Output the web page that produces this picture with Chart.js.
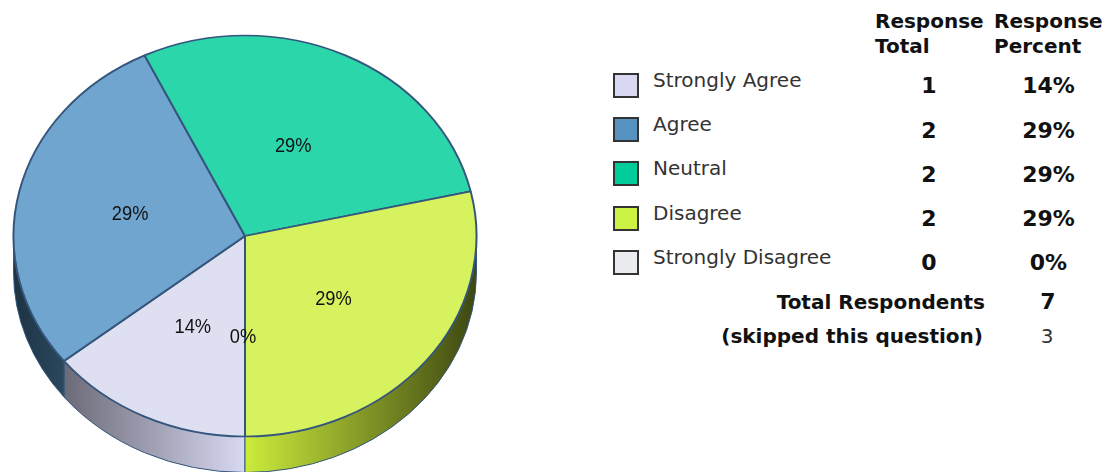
<!DOCTYPE html>
<html>
<head>
<meta charset="utf-8">
<title>Survey responses</title>
<script src="https://cdn.jsdelivr.net/npm/chart.js@4"></script>
<style>
    html, body { margin: 0; padding: 0; background: #fff; }
    body { position: relative; width: 1112px; height: 472px; overflow: hidden; font-family: "DejaVu Sans", sans-serif; }
    #pie-wrap { position: absolute; left: 0; top: 0; width: 490px; height: 472px; }
    .cell { position: absolute; white-space: nowrap; color: #111; line-height: 24px; }
    .bold { font-weight: bold; font-size: 20px; color: #111; }
    .value { font-weight: bold; font-size: 22px; color: #111; }
    .head { font-weight: bold; font-size: 20px; color: #111; }
    .name { font-size: 20px; color: #333; }
    .swatch { position: absolute; left: 613px; width: 22px; height: 21px; border: 2px solid #333; box-sizing: content-box; }
</style>
</head>
<body>
<div id="pie-wrap"><canvas id="pie"></canvas></div>
<div id="table"></div>
<script>
const categories = ['Strongly Agree', 'Agree', 'Neutral', 'Disagree', 'Strongly Disagree'];
const responseTotals = [1, 2, 2, 2, 0];
const totalRespondents = 7;
const skipped = 3;

// top face, legend swatch and side wall colours for each slice
const faceColors = ['#dfdff2', '#70a5cf', '#2bd6ab', '#d6f25f', '#ebecf0'];
const swatchColors = ['#d8d8f3', '#5592c0', '#00cc99', '#ccf243', '#ebecf0'];
const wallColors = [[216, 216, 243], [85, 146, 192], [0, 204, 153], [204, 236, 60], [235, 236, 240]];

const outlineColor = '#35567c';
const squash = 200.5 / 231.5;
const depth = 36;

function percentOf(value) {
    return Math.round(value / totalRespondents * 100) + '%';
}

function shade(rgb, k) {
    return `rgb(${rgb.map(c => Math.round(c * k)).join(',')})`;
}

// side wall below the pie, darker towards the left and right edges
function drawWall(ctx, arc, rgb, from, to) {
    const rx = arc.outerRadius;
    const ry = rx * squash;
    const grad = ctx.createLinearGradient(arc.x - rx, 0, arc.x + rx, 0);
    grad.addColorStop(0, shade(rgb, 0.35));
    grad.addColorStop(0.5, shade(rgb, 1));
    grad.addColorStop(1, shade(rgb, 0.3));
    ctx.beginPath();
    ctx.ellipse(arc.x, arc.y, rx, ry, 0, from, to);
    ctx.ellipse(arc.x, arc.y + depth, rx, ry, 0, to, from, true);
    ctx.closePath();
    ctx.fillStyle = grad;
    ctx.fill();
    ctx.strokeStyle = outlineColor;
    ctx.lineWidth = 1;
    ctx.stroke();
}

const pie3d = {
    id: 'pie3d',
    beforeDatasetsDraw(chart) {
        const ctx = chart.ctx;
        const arcs = chart.getDatasetMeta(0).data;
        ctx.save();
        arcs.forEach((arc, i) => {
            // only the part of a slice facing the viewer has a wall
            [0, Math.PI * 2].forEach(base => {
                const from = Math.max(arc.startAngle, base);
                const to = Math.min(arc.endAngle, base + Math.PI);
                if (to > from) drawWall(ctx, arc, wallColors[i], from, to);
            });
        });
        ctx.restore();

        // flatten the top face
        const cy = arcs[0].y;
        ctx.save();
        ctx.translate(0, cy);
        ctx.scale(1, squash);
        ctx.translate(0, -cy);
    },
    afterDatasetsDraw(chart) {
        const ctx = chart.ctx;
        ctx.restore();
        const arcs = chart.getDatasetMeta(0).data;
        arcs.forEach((arc, i) => {
            const p = arc.getCenterPoint();
            const y = arc.y + (p.y - arc.y) * squash;
            // narrow, tall percent labels
            ctx.save();
            ctx.translate(p.x - 2, y + 0.5);
            ctx.scale(0.87, 1);
            ctx.font = '21px "Liberation Sans", sans-serif';
            ctx.fillStyle = '#111';
            ctx.textAlign = 'center';
            ctx.textBaseline = 'middle';
            ctx.fillText(percentOf(responseTotals[i]), 0, 0);
            ctx.restore();
        });
    }
};

new Chart(document.getElementById('pie'), {
    type: 'pie',
    data: {
        labels: categories,
        datasets: [{
            data: responseTotals,
            backgroundColor: faceColors,
            borderColor: outlineColor,
            borderWidth: 2,
            hoverOffset: 0
        }]
    },
    options: {
        responsive: true,
        maintainAspectRatio: false,
        animation: false,
        events: [],
        rotation: 180,
        layout: { padding: { left: 12.5, right: 12.5, top: 3.5, bottom: 3.5 } },
        plugins: { legend: { display: false }, tooltip: { enabled: false } }
    },
    plugins: [pie3d]
});

// response table to the right of the pie
const table = document.getElementById('table');

function addCell(text, cls, y, x, align) {
    const el = document.createElement('div');
    el.className = 'cell ' + cls;
    el.textContent = text;
    el.style.top = y + 'px';
    if (align === 'center') {
        el.style.left = (x - 100) + 'px';
        el.style.width = '200px';
        el.style.textAlign = 'center';
    } else if (align === 'right') {
        el.style.right = (1112 - x) + 'px';
    } else {
        el.style.left = x + 'px';
    }
    table.appendChild(el);
}

addCell('Response', 'head', 9, 875);
addCell('Total', 'head', 34, 875);
addCell('Response', 'head', 9, 994);
addCell('Percent', 'head', 34, 994);

categories.forEach((name, i) => {
    const rowY = 86 + i * 44.2;
    const swatch = document.createElement('div');
    swatch.className = 'swatch';
    swatch.style.top = Math.round(rowY - 13) + 'px';
    swatch.style.background = swatchColors[i];
    table.appendChild(swatch);
    addCell(name, 'name', rowY - 18, 653);
    addCell(String(responseTotals[i]), 'value', Math.round(rowY - 11.6), 929, 'center');
    addCell(percentOf(responseTotals[i]), 'value', Math.round(rowY - 11.6), 1048.5, 'center');
});

addCell('Total Respondents', 'bold', 290, 985, 'right');
addCell(String(totalRespondents), 'value', 290, 1048, 'center');
addCell('(skipped this question)', 'bold', 324, 983, 'right');
addCell(String(skipped), 'name', 324, 1047, 'center');
</script>
</body>
</html>
